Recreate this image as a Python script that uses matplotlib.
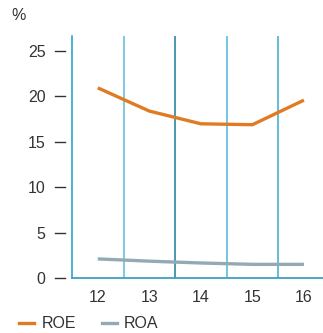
import matplotlib
matplotlib.use("Agg")
import matplotlib.pyplot as plt
import matplotlib.transforms as mtransforms
from matplotlib.lines import Line2D

years = ["12", "13", "14", "15", "16"]
roe = [20.9, 18.35, 16.95, 16.85, 19.55]
roa = [2.1, 1.85, 1.65, 1.5, 1.5]
yticks = [0, 5, 10, 15, 20, 25]

plt.rcParams["font.family"] = ["Liberation Sans", "DejaVu Sans"]
text_color = "#333333"
fs = 11.5

fig = plt.figure(figsize=(3.23, 3.33), dpi=100)
ax = fig.add_axes([72 / 323, (333 - 278) / 333, (323 - 72) / 323, (278 - 36) / 333])

x = list(range(len(years)))
ax.plot(x, roe, color="#e07b24", lw=2.4, solid_capstyle="butt")
ax.plot(x, roa, color="#93aab5", lw=2.4, solid_capstyle="butt")

sep_colors = ["#5bbbd8", "#1a7a9e", "#4ab8dc", "#3aaad0"]
for i, c in enumerate(sep_colors):
    ax.axvline(i + 0.5, color=c, lw=1.1, zorder=0)

ax.set_xlim(-0.5, 4.37)
ax.set_ylim(0, 26.6)

for s in ["top", "right"]:
    ax.spines[s].set_visible(False)
ax.spines["left"].set_color("#1a9ccb")
ax.spines["bottom"].set_color("#3aa0c0")
ax.spines["left"].set_linewidth(1.1)
ax.spines["bottom"].set_linewidth(1.3)

ax.set_xticks(x, years)
ax.tick_params(axis="x", length=0, pad=9, labelsize=fs, labelcolor=text_color)
ax.set_yticks(yticks, [str(v) for v in yticks])
ax.tick_params(axis="y", length=0, pad=19, labelsize=fs, labelcolor=text_color)

# detached tick dashes
trans = mtransforms.blended_transform_factory(ax.transAxes, ax.transData)
w = (323 - 72)
for v in yticks:
    ax.plot([-17 / w, -7 / w], [v, v], color=text_color, lw=1.0, transform=trans, clip_on=False)

fig.text(11 / 323, 1 - 16 / 333, "%", fontsize=fs, color=text_color, va="center", ha="left")

handles = [Line2D([], [], color="#e07b24", lw=2.4), Line2D([], [], color="#93aab5", lw=2.4)]
fig.legend(handles, ["ROE", "ROA"], loc="center left", bbox_to_anchor=(8 / 323, 1 - 324 / 333),
           ncol=2, frameon=False, fontsize=fs, handlelength=0.95, handletextpad=0.45,
           columnspacing=1.6, labelcolor=text_color, borderpad=0.2)

fig.savefig("out.png", dpi=100)
